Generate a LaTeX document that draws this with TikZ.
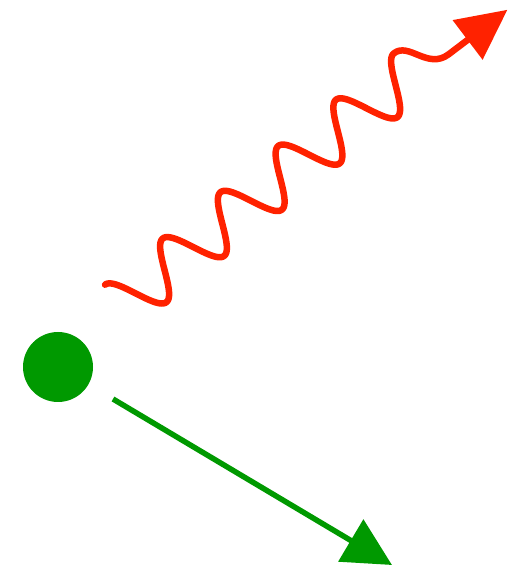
\documentclass[tikz,border=0pt]{standalone}
\usetikzlibrary{arrows.meta}
\definecolor{wavered}{RGB}{255,34,0}
\definecolor{dotgreen}{RGB}{0,153,0}
\begin{document}
\begin{tikzpicture}[x=1pt,y=1pt,
  wave/.style={draw=wavered,line width=6.5pt,line cap=round,line join=round,
    -{Triangle[length=50pt,width=48pt]}},
  track/.style={draw=dotgreen,line width=5.5pt,
    -{Triangle[length=48pt,width=48pt]}},
  particle/.style={circle,fill=dotgreen,minimum size=70pt,inner sep=0pt}]
\useasboundingbox (0,0) rectangle (526,570);
\node[particle] (dot) at (58,203) {};
\coordinate (gstart) at (113,171);
\coordinate (gend) at (392,5);
\draw[track] (gstart) -- (gend);
\begin{scope}[shift={(165,300)},rotate=38.7]
  \coordinate (wend) at (430,-11);
  \draw[wave] plot[domain=-56:314,samples=300,smooth] (\x,{26*cos(4.86486*(\x+56))})
    .. controls (333,26) and (330,-8) .. (356,-9) -- (wend);
\end{scope}
\end{tikzpicture}
\end{document}
